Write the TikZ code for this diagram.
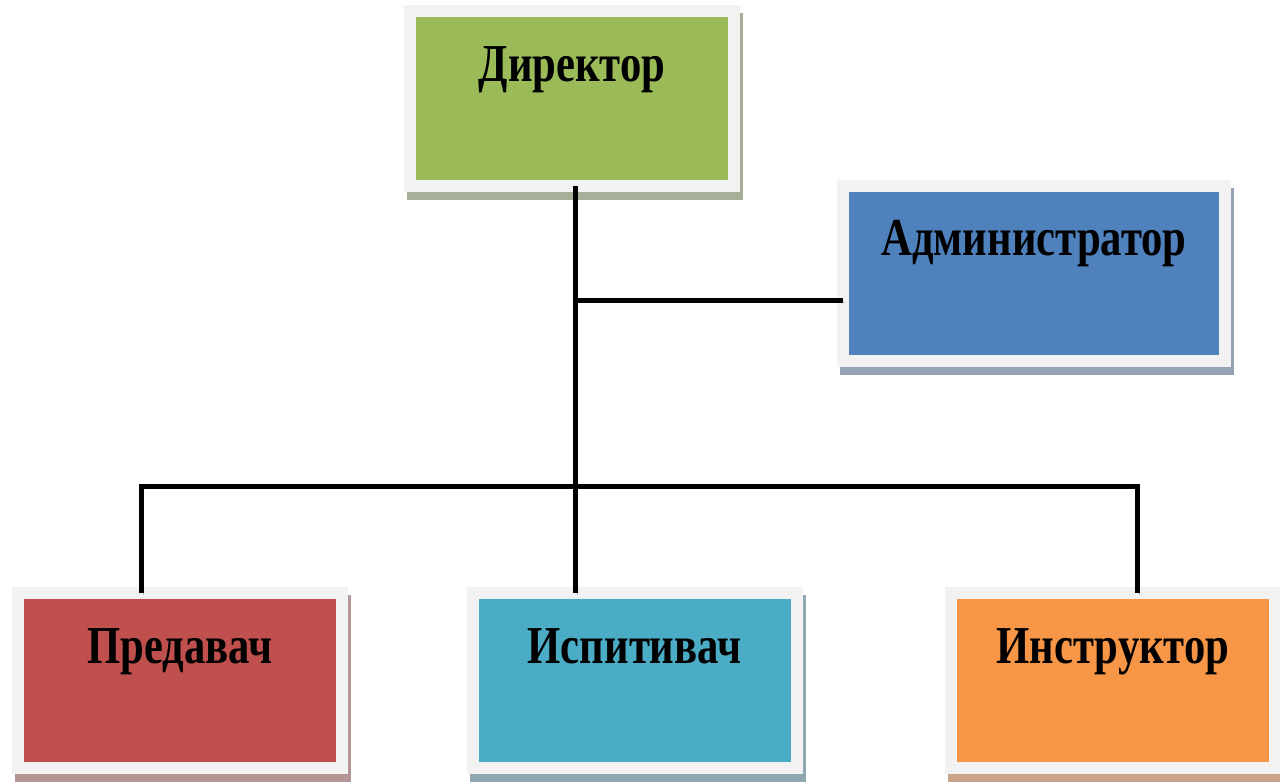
\documentclass[tikz,border=0pt]{standalone}
\usepackage{fontspec}
\newfontfamily\postfont[FakeStretch=0.8]{Liberation Serif}

\definecolor{framegray}{HTML}{F2F2F2}
\definecolor{dirgreen}{HTML}{9BBB59}
\definecolor{dirshade}{HTML}{A7AF98}
\definecolor{admblue}{HTML}{4F81BD}
\definecolor{admshade}{HTML}{95A2B3}
\definecolor{predred}{HTML}{C0504D}
\definecolor{predshade}{HTML}{B49696}
\definecolor{ispaqua}{HTML}{4BACC6}
\definecolor{ispshade}{HTML}{8EA8B0}
\definecolor{instorange}{HTML}{F79646}
\definecolor{instshade}{HTML}{C9A488}

\tikzset{every picture/.style={line width=0.9pt}}
\tikzset{
  post/.style 2 args={draw=framegray, fill=#1, line width=9pt, outer sep=0pt,
    preaction={draw=#2, fill=#2, transform canvas={shift={(2.25pt,-6pt)}}},
    inner ysep=0pt, text height=52.5pt, text depth=78.5pt, minimum width=243pt,
    font=\postfont\bfseries\fontsize{40}{48}\selectfont},
  link/.style={line width=3.75pt,
    preaction={draw=black!25, transform canvas={shift={(1.5pt,-1.5pt)}}}}
}

\begin{document}
\begin{tikzpicture}[x=0.75pt,y=0.75pt,yscale=-1,xscale=1]
\useasboundingbox (0,0) rectangle (1280,782); %same size as the reference

%Shape: Rectangle [director]
\node[post={dirgreen}{dirshade}] (dir) at (572,98.75) {Директор};
%Shape: Rectangle [administrator]
\node[post={admblue}{admshade}, minimum width=287pt] (adm) at (1034,273.25) {Администратор};
%Shape: Rectangle [predavac]
\node[post={predred}{predshade}] (pred) at (180,680.5) {Предавач};
%Shape: Rectangle [ispitivac]
\node[post={ispaqua}{ispshade}] (isp) at (634.5,680.5) {Испитивач};
%Shape: Rectangle [instruktor]
\node[post={instorange}{instshade}] (inst) at (1113,680.5) {Инструктор};

\coordinate (trunk) at (575.5,486);
\coordinate (abranch) at (575.5,300.5);
\coordinate (lbend) at (141.5,486);
\coordinate (rbend) at (1137.5,486);

%Straight Lines
\draw[link] (dir.south -| trunk) -- (trunk |- isp.north);
%Straight Lines
\draw[link] (abranch) -- (abranch -| adm.west);
%Straight Lines
\draw[link] (lbend |- pred.north) -- (lbend) -- (rbend) -- (rbend |- inst.north);

\end{tikzpicture}
\end{document}
